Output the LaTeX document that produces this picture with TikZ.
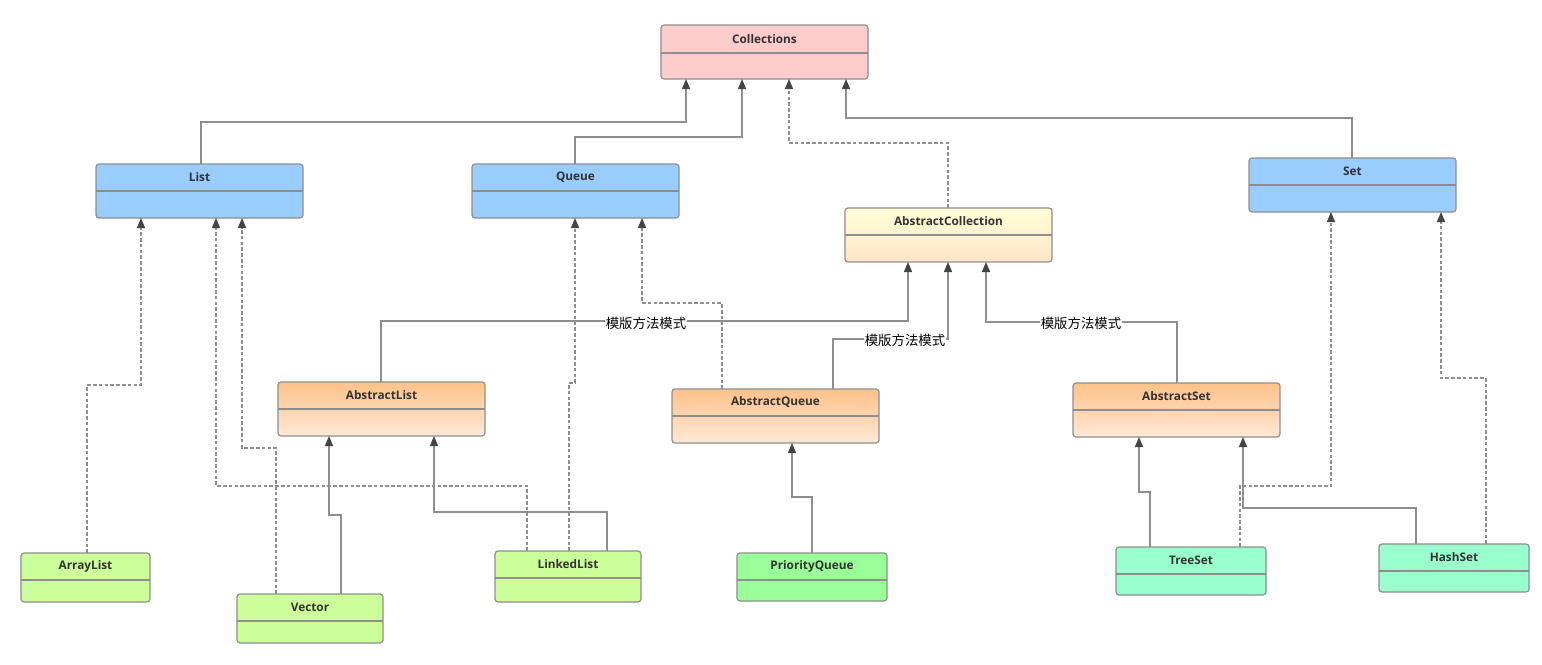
\documentclass[tikz,border=0pt]{standalone}
\usepackage{fontspec}
\newfontfamily\lblfont{Open Sans}
\newfontfamily\cjkfont{Noto Sans CJK SC}
\usetikzlibrary{arrows.meta}
\definecolor{boxline}{HTML}{8E8E8E}
\definecolor{conncol}{HTML}{8E8E8E}
\definecolor{tipcol}{HTML}{444444}
\definecolor{cRed}{HTML}{FFCCCC}
\definecolor{cBlue}{HTML}{99CCFF}
\definecolor{cYellowT}{HTML}{FFFFD6}
\definecolor{cYellowB}{HTML}{FFE4C8}
\definecolor{cOrangeT}{HTML}{FFC28A}
\definecolor{cOrangeB}{HTML}{FFE8D6}
\definecolor{cLime}{HTML}{CCFF99}
\definecolor{cGreen}{HTML}{99FF99}
\definecolor{cMint}{HTML}{99FFCC}
\definecolor{txtcol}{HTML}{333333}
\tikzset{
  umlbox/.style={draw=boxline, line width=0.6pt, rounded corners=1.5pt, inner sep=0pt, outer sep=0pt},
  divline/.style={draw=boxline, line width=0.6pt},
  boxlabel/.style={font=\lblfont\bfseries\fontsize{5.9}{6.8}\selectfont, text=txtcol, inner sep=0pt},
  conn/.style={draw=conncol, line width=0.7pt, -{Triangle[length=5pt,width=4pt,fill=tipcol,color=tipcol]}},
  realize/.style={conn, dash pattern=on 1.8pt off 1.1pt},
  note/.style={font=\cjkfont\fontsize{6.7}{7.5}\selectfont, text=black, fill=white, inner sep=0.6pt},
  fRed/.style={fill=cRed},
  fBlue/.style={fill=cBlue},
  fYellow/.style={top color=cYellowT, bottom color=cYellowB},
  fOrange/.style={top color=cOrangeT, bottom color=cOrangeB},
  fLime/.style={fill=cLime},
  fGreen/.style={fill=cGreen},
  fMint/.style={fill=cMint},
}
% name, x1, y1, x2, y2, ydiv, fillstyle, text
\newcommand\umlclass[8]{%
  \node[umlbox, #7, minimum width={(#4-#2)*0.5pt}, minimum height={(#5-#3)*0.5pt}] (#1) at ({(#2+#4)/2},{(#3+#5)/2}) {};
  \draw[divline] (#1.west |- 0,#6) -- (#1.east |- 0,#6);
  \node[boxlabel] (#1t) at ({(#2+#4)/2},{(#3+#6)/2}) {#8};
}
\begin{document}
\begin{tikzpicture}[x=0.5pt,y=-0.5pt]
\useasboundingbox[fill=white] (0,0) rectangle (1542,664);

\umlclass{coll}{661}{25}{868}{79}{53}{fRed}{Collections}
\umlclass{list}{96}{164}{303}{218}{191}{fBlue}{List}
\umlclass{queue}{472}{164}{679}{218}{191}{fBlue}{Queue}
\umlclass{set}{1249}{158}{1456}{212}{185}{fBlue}{Set}
\umlclass{acoll}{845}{208}{1052}{262}{235}{fYellow}{AbstractCollection}
\umlclass{alist}{278}{382}{485}{436}{409}{fOrange}{AbstractList}
\umlclass{aqueue}{672}{389}{879}{443}{416}{fOrange}{AbstractQueue}
\umlclass{aset}{1073}{383}{1280}{437}{410}{fOrange}{AbstractSet}
\umlclass{arraylist}{21}{553}{150}{602}{580}{fLime}{ArrayList}
\umlclass{vector}{237}{594}{383}{643}{621}{fLime}{Vector}
\umlclass{linkedlist}{495}{551}{641}{602}{578}{fLime}{LinkedList}
\umlclass{pq}{737}{553}{887}{601}{580}{fGreen}{PriorityQueue}
\umlclass{treeset}{1116}{547}{1266}{595}{574}{fMint}{TreeSet}
\umlclass{hashset}{1379}{544}{1529}{592}{571}{fMint}{HashSet}

% to Collections
\draw[conn] (list.north -| 201,0) -- (201,122) -- (686,122) -- (coll.south -| 686,0);
\draw[conn] (queue.north -| 575,0) -- (575,137) -- (742,137) -- (coll.south -| 742,0);
\draw[realize] (acoll.north -| 948,0) -- (948,143) -- (789,143) -- (coll.south -| 789,0);
\draw[conn] (set.north -| 1352,0) -- (1352,118) -- (846,118) -- (coll.south -| 846,0);

% to List
\draw[realize] (arraylist.north -| 87,0) -- (87,385) -- (141,385) -- (list.south -| 141,0);
\draw[realize] (vector.north -| 276,0) -- (276,448) -- (242,448) -- (list.south -| 242,0);
\draw[realize] (linkedlist.north -| 527,0) -- (527,486) -- (216,486) -- (list.south -| 216,0);

% to Queue
\draw[realize] (linkedlist.north -| 569,0) -- (569,383) -- (575,383) -- (queue.south -| 575,0);
\draw[realize] (aqueue.north -| 722,0) -- (722,303) -- (642,303) -- (queue.south -| 642,0);

% to AbstractList
\draw[conn] (linkedlist.north -| 607,0) -- (607,512) -- (434,512) -- (alist.south -| 434,0);
\draw[conn] (vector.north -| 341,0) -- (341,515) -- (329,515) -- (alist.south -| 329,0);

% to AbstractCollection
\draw[conn] (alist.north -| 381,0) -- (381,321) -- (908,321) -- (acoll.south -| 908,0);
\draw[conn] (aqueue.north -| 833,0) -- (833,339) -- (948,339) -- (acoll.south -| 948,0);
\draw[conn] (aset.north -| 1177,0) -- (1177,322) -- (986,322) -- (acoll.south -| 986,0);
\node[note] (n1) at (646,323) {模版方法模式};
\node[note] (n2) at (905,340) {模版方法模式};
\node[note] (n3) at (1081,323) {模版方法模式};

% to AbstractQueue
\draw[conn] (pq.north -| 812,0) -- (812,497) -- (792,497) -- (aqueue.south -| 792,0);

% to AbstractSet / Set
\draw[conn] (treeset.north -| 1150,0) -- (1150,492) -- (1139,492) -- (aset.south -| 1139,0);
\draw[realize] (treeset.north -| 1240,0) -- (1240,486) -- (1331,486) -- (set.south -| 1331,0);
\draw[conn] (hashset.north -| 1416,0) -- (1416,508) -- (1243,508) -- (aset.south -| 1243,0);
\draw[realize] (hashset.north -| 1486,0) -- (1486,378) -- (1441,378) -- (set.south -| 1441,0);
\end{tikzpicture}
\end{document}
